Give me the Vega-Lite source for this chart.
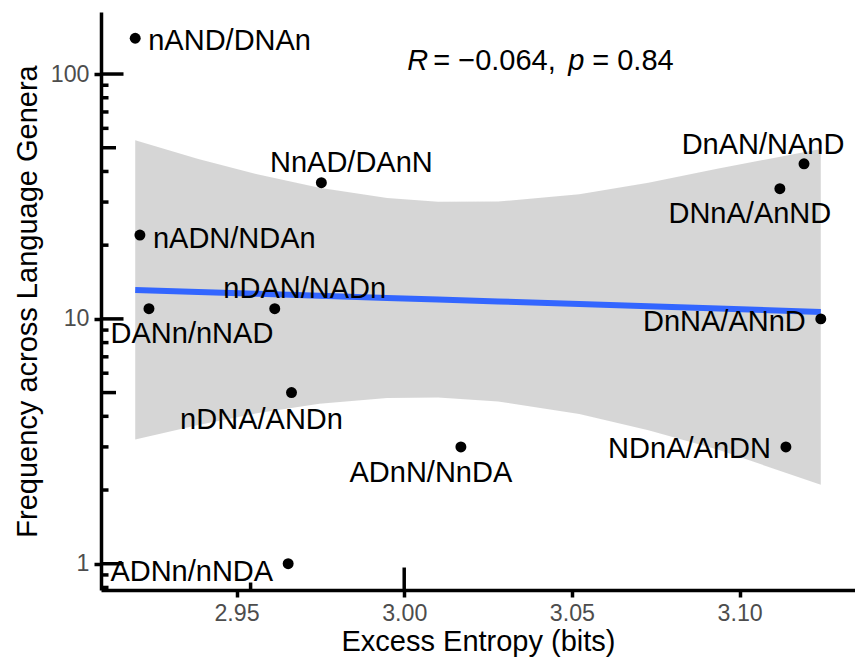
{
  "$schema": "https://vega.github.io/schema/vega-lite/v6.json",
  "width": 754,
  "height": 578,
  "autosize": {"type": "none"},
  "padding": {"left": 101, "top": 12, "right": 0, "bottom": 69},
  "background": "white",
  "config": {
    "view": {"stroke": null},
    "font": "Liberation Sans",
    "axis": {
      "grid": false,
      "domainColor": "black",
      "domainWidth": 3.5,
      "tickColor": "black",
      "tickWidth": 3.5,
      "tickSize": 7,
      "labelFont": "Liberation Sans",
      "labelFontSize": 23.2,
      "labelColor": "#4D4D4D",
      "labelPadding": 5,
      "titleFont": "Liberation Sans",
      "titleFontSize": 29,
      "titleFontWeight": "normal",
      "titleColor": "black",
      "zindex": 1
    }
  },
  "datasets": {
    "pts": [
      {"x": 2.9198, "y": 140, "label": "nAND/DNAn"},
      {"x": 2.9212, "y": 22, "label": "nADN/NDAn"},
      {"x": 2.9239, "y": 11, "label": "DANn/nNAD"},
      {"x": 2.9614, "y": 11, "label": "nDAN/NADn"},
      {"x": 2.9664, "y": 5, "label": "nDNA/ANDn"},
      {"x": 2.9654, "y": 1, "label": "ADNn/nNDA"},
      {"x": 2.9753, "y": 36, "label": "NnAD/DAnN"},
      {"x": 3.0169, "y": 3, "label": "ADnN/NnDA"},
      {"x": 3.1192, "y": 43, "label": "DnAN/NAnD"},
      {"x": 3.1120, "y": 34, "label": "DNnA/AnND"},
      {"x": 3.1242, "y": 10, "label": "DnNA/ANnD"},
      {"x": 3.1138, "y": 3, "label": "NDnA/AnDN"}
    ],
    "fit": [
      {"x": 2.9198, "fit": 13.13, "lo": 3.216, "hi": 53.6},
      {"x": 2.9386, "fit": 12.89, "lo": 3.688, "hi": 45.0},
      {"x": 2.9565, "fit": 12.66, "lo": 4.126, "hi": 38.85},
      {"x": 2.9747, "fit": 12.43, "lo": 4.499, "hi": 34.32},
      {"x": 2.9949, "fit": 12.17, "lo": 4.750, "hi": 31.18},
      {"x": 3.0101, "fit": 11.99, "lo": 4.773, "hi": 30.12},
      {"x": 3.0280, "fit": 11.78, "lo": 4.602, "hi": 30.15},
      {"x": 3.0522, "fit": 11.49, "lo": 4.087, "hi": 32.31},
      {"x": 3.0728, "fit": 11.26, "lo": 3.506, "hi": 35.96},
      {"x": 3.0937, "fit": 11.02, "lo": 2.919, "hi": 41.15},
      {"x": 3.1242, "fit": 10.68, "lo": 2.101, "hi": 49.4}
    ],
    "yticks": [
      {"v": 0.8, "k": "short"}, {"v": 0.9, "k": "short"},
      {"v": 1, "k": "long"},
      {"v": 2, "k": "short"}, {"v": 3, "k": "short"}, {"v": 4, "k": "short"},
      {"v": 5, "k": "mid"},
      {"v": 6, "k": "short"}, {"v": 7, "k": "short"}, {"v": 8, "k": "short"}, {"v": 9, "k": "short"},
      {"v": 10, "k": "long"},
      {"v": 20, "k": "short"}, {"v": 30, "k": "short"}, {"v": 40, "k": "short"},
      {"v": 50, "k": "mid"},
      {"v": 60, "k": "short"}, {"v": 70, "k": "short"}, {"v": 80, "k": "short"}, {"v": 90, "k": "short"},
      {"v": 100, "k": "long"}
    ],
    "xticks": [
      {"v": 2.9542, "k": "short"},
      {"v": 3.0, "k": "long"}
    ]
  },
  "layer": [
    {
      "data": {"name": "fit"},
      "mark": {"type": "area", "color": "#999999", "opacity": 0.4},
      "encoding": {
        "x": {"field": "x", "type": "quantitative",
              "scale": {"domain": [2.9096, 3.1344], "nice": false, "zero": false},
              "axis": {"values": [2.95, 3.0, 3.05, 3.1], "format": ".2f", "title": "Excess Entropy (bits)", "titlePadding": 3}},
        "y": {"field": "lo", "type": "quantitative",
              "scale": {"type": "log", "domain": [0.7811, 179.2], "nice": false},
              "axis": {"values": [1, 10, 100], "format": "d", "title": "Frequency across Language Genera", "titlePadding": 8}},
        "y2": {"field": "hi"}
      }
    },
    {
      "data": {"name": "fit"},
      "mark": {"type": "line", "color": "#3366FF", "strokeWidth": 6},
      "encoding": {
        "x": {"field": "x", "type": "quantitative"},
        "y": {"field": "fit", "type": "quantitative"}
      }
    },
    {
      "data": {"name": "yticks"},
      "transform": [{"filter": "datum.k == 'long'"}],
      "mark": {"type": "rule", "color": "black", "strokeWidth": 3.5},
      "encoding": {
        "y": {"field": "v", "type": "quantitative"},
        "x": {"datum": 2.9096, "type": "quantitative"},
        "x2": {"datum": 2.91631}
      }
    },
    {
      "data": {"name": "yticks"},
      "transform": [{"filter": "datum.k == 'mid'"}],
      "mark": {"type": "rule", "color": "black", "strokeWidth": 3.5},
      "encoding": {
        "y": {"field": "v", "type": "quantitative"},
        "x": {"datum": 2.9096, "type": "quantitative"},
        "x2": {"datum": 2.91407}
      }
    },
    {
      "data": {"name": "yticks"},
      "transform": [{"filter": "datum.k == 'short'"}],
      "mark": {"type": "rule", "color": "black", "strokeWidth": 3.5},
      "encoding": {
        "y": {"field": "v", "type": "quantitative"},
        "x": {"datum": 2.9096, "type": "quantitative"},
        "x2": {"datum": 2.91184}
      }
    },
    {
      "data": {"name": "xticks"},
      "transform": [{"filter": "datum.k == 'long'"}],
      "mark": {"type": "rule", "color": "black", "strokeWidth": 3.5},
      "encoding": {
        "x": {"field": "v", "type": "quantitative"},
        "y": {"datum": 0.7811, "type": "quantitative"},
        "y2": {"datum": 0.965}
      }
    },
    {
      "data": {"name": "xticks"},
      "transform": [{"filter": "datum.k == 'short'"}],
      "mark": {"type": "rule", "color": "black", "strokeWidth": 3.5},
      "encoding": {
        "x": {"field": "v", "type": "quantitative"},
        "y": {"datum": 0.7811, "type": "quantitative"},
        "y2": {"datum": 0.8381}
      }
    },
    {
      "data": {"name": "pts"},
      "mark": {"type": "circle", "color": "black", "opacity": 1, "size": 120},
      "encoding": {
        "x": {"field": "x", "type": "quantitative"},
        "y": {"field": "y", "type": "quantitative"}
      }
    },
    {
      "data": {"name": "pts"},
      "encoding": {
        "x": {"field": "x", "type": "quantitative"},
        "y": {"field": "y", "type": "quantitative"},
        "text": {"field": "label"}
      },
      "layer": [
        {"transform": [{"filter": "datum.label == 'nAND/DNAn'"}], "mark": {"type": "text", "fontSize": 29, "baseline": "middle", "align": "left", "dx": 13, "dy": 3}},
        {"transform": [{"filter": "datum.label == 'nADN/NDAn'"}], "mark": {"type": "text", "fontSize": 29, "baseline": "middle", "align": "left", "dx": 13, "dy": 4}},
        {"transform": [{"filter": "datum.label == 'DANn/nNAD'"}], "mark": {"type": "text", "fontSize": 29, "baseline": "middle", "align": "center", "dx": 43, "dy": 25}},
        {"transform": [{"filter": "datum.label == 'nDAN/NADn'"}], "mark": {"type": "text", "fontSize": 29, "baseline": "middle", "align": "center", "dx": 30, "dy": -20}},
        {"transform": [{"filter": "datum.label == 'nDNA/ANDn'"}], "mark": {"type": "text", "fontSize": 29, "baseline": "middle", "align": "center", "dx": -30, "dy": 27}},
        {"transform": [{"filter": "datum.label == 'ADNn/nNDA'"}], "mark": {"type": "text", "fontSize": 29, "baseline": "middle", "align": "right", "dx": -15, "dy": 8}},
        {"transform": [{"filter": "datum.label == 'NnAD/DAnN'"}], "mark": {"type": "text", "fontSize": 29, "baseline": "middle", "align": "center", "dx": 30, "dy": -20}},
        {"transform": [{"filter": "datum.label == 'ADnN/NnDA'"}], "mark": {"type": "text", "fontSize": 29, "baseline": "middle", "align": "center", "dx": -30, "dy": 26}},
        {"transform": [{"filter": "datum.label == 'DnAN/NAnD'"}], "mark": {"type": "text", "fontSize": 29, "baseline": "middle", "align": "center", "dx": -41, "dy": -19}},
        {"transform": [{"filter": "datum.label == 'DNnA/AnND'"}], "mark": {"type": "text", "fontSize": 29, "baseline": "middle", "align": "center", "dx": -30, "dy": 25}},
        {"transform": [{"filter": "datum.label == 'DnNA/ANnD'"}], "mark": {"type": "text", "fontSize": 29, "baseline": "middle", "align": "right", "dx": -15, "dy": 3}},
        {"transform": [{"filter": "datum.label == 'NDnA/AnDN'"}], "mark": {"type": "text", "fontSize": 29, "baseline": "middle", "align": "right", "dx": -15, "dy": 2}}
      ]
    },
    {
      "data": {"values": [{"x": 3.0, "y": 103.8}]},
      "encoding": {
        "x": {"field": "x", "type": "quantitative"},
        "y": {"field": "y", "type": "quantitative"}
      },
      "layer": [
        {"mark": {"type": "text", "text": "R", "fontStyle": "italic", "fontSize": 29, "align": "left", "baseline": "alphabetic", "dx": 3}},
        {"mark": {"type": "text", "text": "= −0.064,", "fontSize": 29, "align": "left", "baseline": "alphabetic", "dx": 29}},
        {"mark": {"type": "text", "text": "p", "fontStyle": "italic", "fontSize": 29, "align": "left", "baseline": "alphabetic", "dx": 164}},
        {"mark": {"type": "text", "text": "= 0.84", "fontSize": 29, "align": "left", "baseline": "alphabetic", "dx": 188}}
      ]
    }
  ]
}
